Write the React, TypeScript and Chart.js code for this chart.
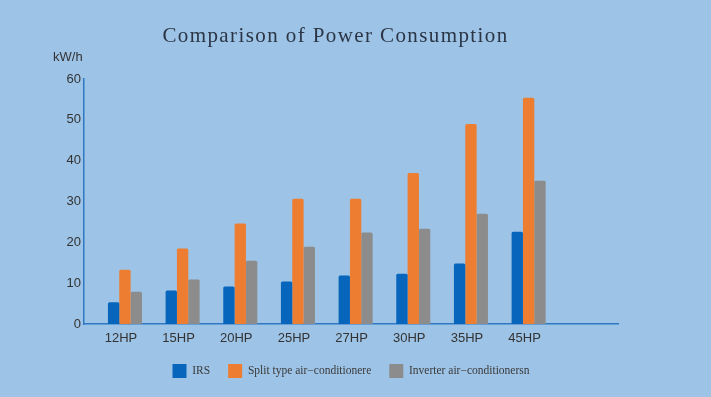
import React, { useEffect, useRef } from 'react';
import { Chart, registerables } from 'chart.js';

Chart.register(...registerables);

const categories = ['12HP', '15HP', '20HP', '25HP', '27HP', '30HP', '35HP', '45HP'];
const irs = [5.3, 8.2, 9.2, 10.4, 11.9, 12.3, 14.8, 22.6];
const splitType = [13.3, 18.5, 24.6, 30.7, 30.7, 37.0, 49.0, 55.4];
const inverter = [7.9, 10.9, 15.5, 18.9, 22.4, 23.3, 27.0, 35.1];
const seriesNames = ['IRS', 'Split type air−conditionere', 'Inverter air−conditionersn'];
const yMin = 0;
const yMax = 60;
const yStep = 10;
const titleText = 'Comparison of Power Consumption';
const yUnit = 'kW/h';

const BG = '#9DC3E6';
const AXIS = '#2F78C4';
const COLORS = ['#0765BC', '#ED7D31', '#8C8C8C'];

export default function App() {
  const ref = useRef<HTMLCanvasElement | null>(null);

  useEffect(() => {
    if (!ref.current) return;
    const toPts = (arr: number[]) => arr.map((v, i) => ({ x: i, y: v }));
    const chart = new Chart(ref.current, {
      type: 'bar',
      data: {
        datasets: [irs, splitType, inverter].map((arr, k) => ({
          label: seriesNames[k],
          data: toPts(arr),
          backgroundColor: COLORS[k],
          borderWidth: 0,
          borderRadius: 1.5,
          categoryPercentage: 0.59,
          barPercentage: 1,
        })),
      },
      options: {
        responsive: false,
        animation: false,
        devicePixelRatio: 1,
        layout: { padding: { top: 0, left: 53, right: 93, bottom: 9 } },
        plugins: {
          title: {
            display: true,
            text: titleText,
            color: '#2B3545',
            font: { family: 'Liberation Serif', size: 21, weight: 'normal' },
            padding: { top: 23.4, bottom: 0 },
          },
          subtitle: {
            display: true,
            text: yUnit,
            align: 'start',
            color: '#333333',
            font: { family: 'Liberation Sans', size: 13, weight: 'normal' },
            padding: { top: 0.6, bottom: 14.2 },
          },
          legend: {
            display: true,
            position: 'bottom',
            fullSize: false,
            labels: {
              boxWidth: 14,
              boxHeight: 14,
              padding: 18,
              color: '#3A3A3A',
              font: { family: 'Liberation Serif', size: 11.5 },
            },
          },
          tooltip: { enabled: false },
        },
        scales: {
          x: {
            type: 'linear',
            min: -0.71,
            max: 8.55,
            offset: false,
            grid: { display: false, drawTicks: false, offset: false },
            border: { display: true, color: AXIS, width: 1.5 },
            afterBuildTicks: (s: any) => {
              s.ticks = categories.map((_, i) => ({ value: i }));
            },
            afterFit: (s: any) => {
              s.height = 22;
            },
            ticks: {
              autoSkip: false,
              maxRotation: 0,
              padding: 7,
              labelOffset: -4,
              color: '#333333',
              font: { family: 'Liberation Sans', size: 13 },
              callback: (v: any) => categories[v as number] ?? '',
            },
          },
          y: {
            min: yMin,
            max: yMax,
            grid: { display: false, drawTicks: false },
            border: { display: true, color: AXIS, width: 1.5 },
            afterFit: (s: any) => {
              s.width = 31;
            },
            ticks: {
              stepSize: yStep,
              padding: 3,
              color: '#333333',
              font: { family: 'Liberation Sans', size: 13 },
            },
          },
        },
      },
    } as any);

    const tb: any = (chart as any).titleBlock;
    if (tb) {
      const orig = tb.draw.bind(tb);
      tb.draw = () => {
        const c: any = chart.ctx;
        const prev = c.letterSpacing;
        c.letterSpacing = '1.4px';
        orig();
        c.letterSpacing = prev ?? '0px';
      };
      chart.draw();
    }

    return () => chart.destroy();
  }, []);

  return (
    <div style={{ position: 'fixed', left: 0, top: 0, width: 711, height: 397, background: BG }}>
      <canvas ref={ref} width={711} height={397} style={{ display: 'block' }} />
    </div>
  );
}
